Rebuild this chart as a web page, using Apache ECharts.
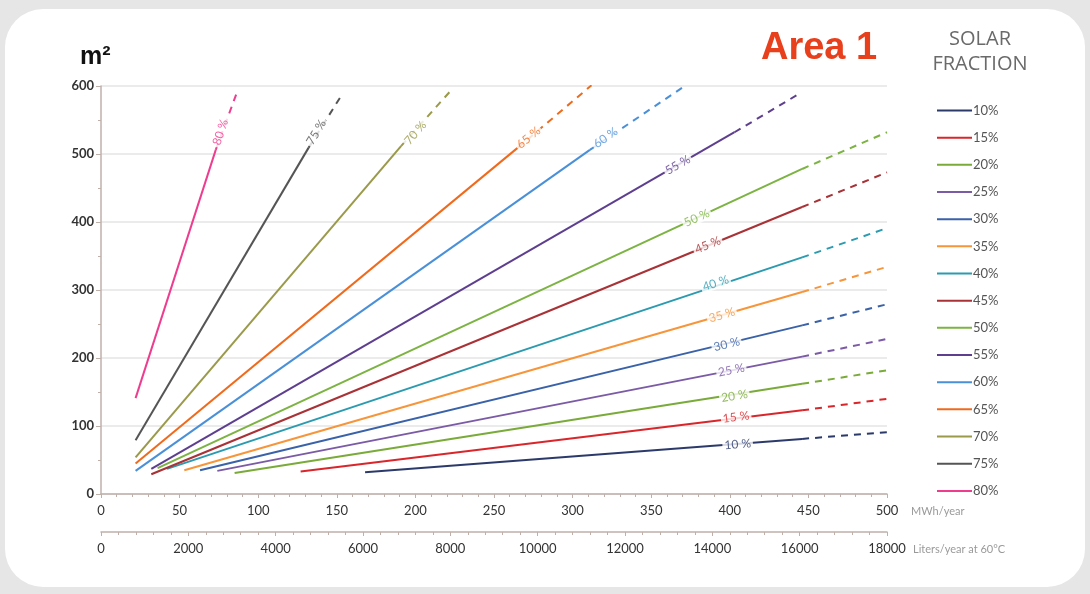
<!DOCTYPE html>
<html>
<head>
<meta charset="utf-8">
<script src="https://cdn.jsdelivr.net/npm/echarts@6/dist/echarts.min.js"></script>
<style>
html,body{margin:0;padding:0;background:#e6e6e6;}
#c{width:1090px;height:594px;}
</style>
</head>
<body>
<div id="c"></div>
<script>
// ---- data ----
const fractions = ['10%','15%','20%','25%','30%','35%','40%','45%','50%','55%','60%','65%','70%','75%','80%'];
const lineLabels = ['10 %','15 %','20 %','25 %','30 %','35 %','40 %','45 %','50 %','55 %','60 %','65 %','70 %','75 %','80 %'];
const colors = ['#2b3a6b','#d9262b','#7aab3a','#7b5aa6','#3a62a8','#f7953a','#2a9bb0','#a83236','#7cb342','#5e3f8f','#4a90d9','#f06a1c','#9a9a4a','#555555','#ee3d8f'];
// start of each curve (MWh/year, m2)
const startX = [168, 127, 85, 74, 63, 53, 42, 32, 36, 32, 22, 22, 22, 22, 22];
const startY = [32, 33, 31, 34, 35, 35, 37, 29, 38, 37, 34, 45, 54, 79, 141];
// end of solid part
const solidEndX = [446, 446, 446, 446, 446, 446, 446, 446, 446, 403, 311, 265, 191, 132, 73];
const solidEndY = [81, 123, 162, 202, 248, 297, 348, 422, 478, 532, 506, 509, 512, 509, 506];
// end of dashed extension
const dashEndX = [500, 500, 500, 500, 500, 500, 500, 500, 500, 443, 372, 312, 224, 154, 87];
const dashEndY = [91, 140, 182, 228, 279, 334, 391, 473, 532, 587, 601, 601, 597, 590, 594];
// label positions along each curve
const labelX = [405, 404, 403, 401, 398, 395, 391, 386, 379, 367, 321, 272, 200, 137, 76];
const labelY = [73, 113, 144, 182, 220, 263, 310, 366, 406, 484, 524, 524, 531, 532, 532];
// axis ticks
const mwhMax = 500, mwhStep = 50;
const litersMax = 18000, litersStep = 2000;
const areaMax = 600, areaStep = 100;

const chart = echarts.init(document.getElementById('c'));
const narrow = "Lato,'Open Sans',sans-serif";
const axisCol = '#bfb0aa';

function buildSeries(rot){
  const s = [];
  fractions.forEach((f,i)=>{
    s.push({type:'line', name:f, xAxisIndex:0, yAxisIndex:0, symbol:'none', z:3,
      lineStyle:{color:colors[i], width:2}, itemStyle:{color:colors[i]},
      data:[[startX[i],startY[i]],[solidEndX[i],solidEndY[i]]]});
    s.push({type:'line', name:f+' ext', xAxisIndex:0, yAxisIndex:0, symbol:'none', z:3,
      lineStyle:{color:colors[i], width:2, type:[7,6]}, itemStyle:{color:colors[i]},
      data:[[solidEndX[i],solidEndY[i]],[dashEndX[i],dashEndY[i]]]});
    s.push({type:'scatter', name:f+' label', xAxisIndex:0, yAxisIndex:0, symbolSize:1, z:5,
      itemStyle:{color:'rgba(0,0,0,0)'}, silent:true,
      label:{show:true, position:'inside', formatter:lineLabels[i], color:colors[i],
        fontFamily:narrow, fontSize:12, rotate:rot? rot[i]:0,
        backgroundColor:'#ffffff', padding:[0,2,0,2]},
      data:[[labelX[i],labelY[i]]]});
  });
  return s;
}

const option = {
  animation:false,
  backgroundColor:'transparent',
  graphic:[
    {type:'rect', z:-10, silent:true, shape:{x:5,y:9,width:1080,height:578,r:38}, style:{fill:'#ffffff'}},
    {type:'text', x:761, y:30, style:{text:'Area 1', fill:'#e8401c', font:"bold 38px 'Liberation Sans','Arial',sans-serif"}},
    {type:'text', x:980, y:27, style:{text:'SOLAR\nFRACTION', fill:'#6a6a6a', align:'center', lineHeight:25, font:"20px 'Open Sans',sans-serif"}}
  ],
  title:{text:'m²', left:75, top:40, textStyle:{fontSize:25, fontWeight:'bold', color:'#111', fontFamily:"'Liberation Sans',sans-serif"}},
  legend:{orient:'vertical', left:937, top:99, padding:[5,5,5,0], itemWidth:35, itemHeight:12, itemGap:14.17,
    data:fractions, icon:'path://M0,5 L35,5 L35,7 L0,7 Z',
    textStyle:{color:'#555', fontSize:13, fontFamily:narrow, padding:[0,0,0,-4]}},
  grid:{left:101, right:203, top:86, bottom:100},
  xAxis:[
    {type:'value', min:0, max:mwhMax, interval:mwhStep, position:'bottom',
      name:'MWh/year', nameLocation:'end', nameGap:24,
      nameTextStyle:{color:'#9a9a9a', fontSize:11, fontFamily:narrow, verticalAlign:'top', padding:[12,0,0,0]},
      axisLine:{lineStyle:{color:axisCol, width:1.5}},
      axisTick:{length:4, lineStyle:{color:axisCol}},
      minorTick:{show:true, splitNumber:5, length:3, lineStyle:{color:axisCol}},
      axisLabel:{color:'#333', fontSize:13, fontFamily:narrow, margin:10},
      splitLine:{show:false}},
    {type:'value', min:0, max:litersMax, interval:litersStep, position:'bottom', offset:38,
      name:'Liters/year at 60°C', nameLocation:'end', nameGap:26,
      nameTextStyle:{color:'#9a9a9a', fontSize:11, fontFamily:narrow, verticalAlign:'top', padding:[12,0,0,0]},
      axisLine:{lineStyle:{color:axisCol, width:1.5}},
      axisTick:{length:4, lineStyle:{color:axisCol}},
      minorTick:{show:true, splitNumber:5, length:3, lineStyle:{color:axisCol}},
      axisLabel:{color:'#333', fontSize:13, fontFamily:narrow, margin:10, formatter:v=>String(v)},
      splitLine:{show:false}}
  ],
  yAxis:{type:'value', min:0, max:areaMax, interval:areaStep,
    axisLine:{show:true, lineStyle:{color:axisCol, width:1.5}},
    axisTick:{show:true, length:5, lineStyle:{color:axisCol}},
    minorTick:{show:true, splitNumber:2, length:3, lineStyle:{color:axisCol}},
    axisLabel:{color:'#333', fontSize:13, fontWeight:'bold', fontFamily:narrow, margin:7},
    splitLine:{show:true, lineStyle:{color:'#e4e4e4', width:1.5}}},
  series:buildSeries(null)
};
chart.setOption(option);
const rot = fractions.map((f,i)=>{
  const p1 = chart.convertToPixel({xAxisIndex:0,yAxisIndex:0},[startX[i],startY[i]]);
  const p2 = chart.convertToPixel({xAxisIndex:0,yAxisIndex:0},[dashEndX[i],dashEndY[i]]);
  return Math.atan2(-(p2[1]-p1[1]), p2[0]-p1[0])*180/Math.PI;
});
chart.setOption({series:buildSeries(rot)});
</script>
</body>
</html>
